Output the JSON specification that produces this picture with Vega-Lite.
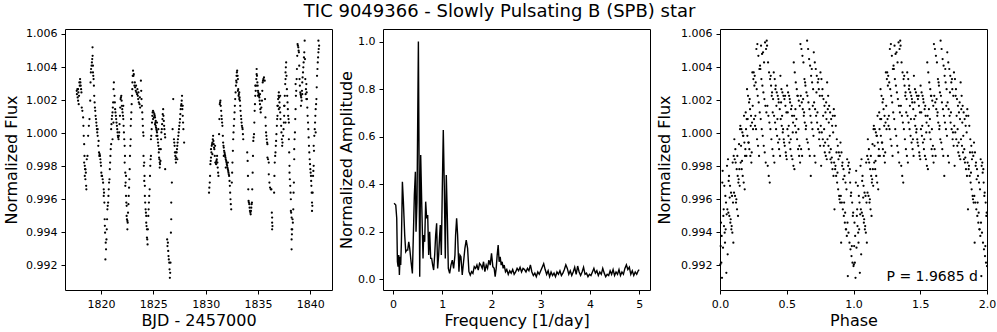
{
"$schema": "https://vega.github.io/schema/vega-lite/v6.json",
"background": "white",
"padding": {"left": 3, "top": 3, "right": 5, "bottom": 0},
"title": {"text": "TIC 9049366 - Slowly Pulsating B (SPB) star", "font": "DejaVu Sans", "fontSize": 18, "fontWeight": "normal", "color": "black", "anchor": "middle", "frame": "bounds", "offset": 6},
"config": {
  "font": "DejaVu Sans",
  "view": {"stroke": "black", "strokeWidth": 1},
  "axis": {"grid": false, "domain": false, "labelFont": "DejaVu Sans", "labelFontSize": 11, "labelColor": "black", "titleFont": "DejaVu Sans", "titleFontSize": 16, "titleFontWeight": "normal", "titleColor": "black", "tickColor": "black", "tickSize": 4, "tickWidth": 1, "labelPadding": 4, "titlePadding": 6, "labelFlush": false, "labelOverlap": false},
  "axisX": {"titlePadding": 3}
},
"datasets": {
"lc": [
{"t":1817.68,"f":1.00256},{"t":1817.74,"f":1.00266},{"t":1817.81,"f":1.00196},{"t":1817.87,"f":1.00175},{"t":1817.93,"f":1.00307},{"t":1818.00,"f":1.00327},{"t":1818.06,"f":1.00287},{"t":1818.13,"f":1.00246},{"t":1818.16,"f":1.00155},{"t":1818.22,"f":1.00135},{"t":1818.29,"f":1.00095},{"t":1818.32,"f":1.00044},{"t":1818.39,"f":0.99933},{"t":1818.39,"f":0.99822},{"t":1818.45,"f":0.99802},{"t":1818.48,"f":0.99782},{"t":1818.55,"f":0.99761},{"t":1818.58,"f":0.99681},{"t":1818.64,"f":0.99842},{"t":1818.71,"f":0.99862},{"t":1818.77,"f":0.99984},{"t":1818.84,"f":1.00044},{"t":1818.90,"f":1.00085},{"t":1818.97,"f":1.00196},{"t":1819.00,"f":1.00307},{"t":1819.03,"f":1.00367},{"t":1819.10,"f":1.00408},{"t":1819.16,"f":1.00448},{"t":1819.19,"f":1.00519},{"t":1819.23,"f":1.00367},{"t":1819.29,"f":1.00327},{"t":1819.35,"f":1.00226},{"t":1819.42,"f":1.00155},{"t":1819.48,"f":1.00105},{"t":1819.55,"f":1.00064},{"t":1819.61,"f":1.00024},{"t":1819.68,"f":0.99984},{"t":1819.74,"f":0.99923},{"t":1819.81,"f":0.99883},{"t":1819.87,"f":0.99873},{"t":1819.94,"f":0.99842},{"t":1820.00,"f":0.99802},{"t":1820.06,"f":0.99741},{"t":1820.16,"f":0.99721},{"t":1820.26,"f":0.99660},{"t":1820.26,"f":0.99620},{"t":1820.32,"f":0.99580},{"t":1820.35,"f":0.99479},{"t":1820.39,"f":0.99398},{"t":1820.45,"f":0.99337},{"t":1820.48,"f":0.99297},{"t":1820.42,"f":0.99236},{"t":1820.55,"f":0.99418},{"t":1820.61,"f":0.99539},{"t":1820.68,"f":0.99580},{"t":1820.74,"f":0.99660},{"t":1820.81,"f":0.99721},{"t":1820.87,"f":0.99822},{"t":1820.90,"f":0.99862},{"t":1820.97,"f":0.99933},{"t":1820.97,"f":1.00024},{"t":1821.03,"f":1.00085},{"t":1821.10,"f":1.00125},{"t":1821.16,"f":1.00186},{"t":1821.23,"f":1.00307},{"t":1821.29,"f":1.00226},{"t":1821.35,"f":1.00145},{"t":1821.42,"f":1.00105},{"t":1821.48,"f":1.00064},{"t":1821.55,"f":1.00024},{"t":1821.61,"f":0.99984},{"t":1821.68,"f":0.99963},{"t":1821.74,"f":1.00004},{"t":1821.81,"f":1.00105},{"t":1821.87,"f":1.00206},{"t":1821.94,"f":1.00226},{"t":1822.00,"f":1.00165},{"t":1822.06,"f":1.00125},{"t":1822.13,"f":1.00085},{"t":1822.19,"f":1.00004},{"t":1822.26,"f":0.99923},{"t":1822.26,"f":0.99822},{"t":1822.32,"f":0.99761},{"t":1822.32,"f":0.99681},{"t":1822.39,"f":0.99620},{"t":1822.45,"f":0.99560},{"t":1822.45,"f":0.99499},{"t":1822.52,"f":0.99469},{"t":1822.52,"f":0.99418},{"t":1822.58,"f":0.99519},{"t":1822.65,"f":0.99620},{"t":1822.71,"f":0.99721},{"t":1822.77,"f":0.99862},{"t":1822.84,"f":0.99963},{"t":1822.84,"f":1.00044},{"t":1822.90,"f":1.00125},{"t":1822.97,"f":1.00226},{"t":1823.00,"f":1.00307},{"t":1823.06,"f":1.00378},{"t":1823.13,"f":1.00357},{"t":1823.19,"f":1.00287},{"t":1823.26,"f":1.00277},{"t":1823.32,"f":1.00256},{"t":1823.39,"f":1.00246},{"t":1823.45,"f":1.00236},{"t":1823.52,"f":1.00226},{"t":1823.55,"f":1.00206},{"t":1823.61,"f":1.00186},{"t":1823.68,"f":1.00175},{"t":1823.74,"f":1.00155},{"t":1823.81,"f":1.00317},{"t":1823.87,"f":1.00206},{"t":1823.94,"f":1.00125},{"t":1824.00,"f":1.00044},{"t":1824.06,"f":0.99984},{"t":1824.06,"f":0.99862},{"t":1824.13,"f":0.99822},{"t":1824.13,"f":0.99711},{"t":1824.19,"f":0.99681},{"t":1824.19,"f":0.99620},{"t":1824.26,"f":0.99539},{"t":1824.32,"f":0.99499},{"t":1824.32,"f":0.99458},{"t":1824.39,"f":0.99418},{"t":1824.39,"f":0.99368},{"t":1824.45,"f":0.99327},{"t":1824.52,"f":0.99499},{"t":1824.58,"f":0.99580},{"t":1824.65,"f":0.99660},{"t":1824.71,"f":0.99802},{"t":1824.77,"f":0.99862},{"t":1824.77,"f":0.99963},{"t":1824.84,"f":1.00024},{"t":1824.90,"f":1.00105},{"t":1824.97,"f":1.00135},{"t":1825.03,"f":1.00125},{"t":1825.10,"f":1.00115},{"t":1825.16,"f":1.00095},{"t":1825.23,"f":1.00074},{"t":1825.23,"f":1.00044},{"t":1825.29,"f":1.00024},{"t":1825.35,"f":1.00004},{"t":1825.42,"f":0.99963},{"t":1825.48,"f":0.99923},{"t":1825.55,"f":0.99903},{"t":1825.55,"f":0.99852},{"t":1825.61,"f":0.99822},{"t":1825.61,"f":0.99792},{"t":1825.68,"f":0.99832},{"t":1825.74,"f":0.99963},{"t":1825.81,"f":1.00024},{"t":1825.87,"f":1.00085},{"t":1825.94,"f":1.00145},{"t":1826.00,"f":1.00074},{"t":1826.06,"f":1.00024},{"t":1826.13,"f":0.99974},{"t":1826.13,"f":0.99782},{"t":1826.32,"f":0.99357},{"t":1826.39,"f":0.99337},{"t":1826.45,"f":0.99256},{"t":1826.52,"f":0.99216},{"t":1826.55,"f":0.99176},{"t":1826.58,"f":0.99125},{"t":1826.64,"f":0.99216},{"t":1826.68,"f":0.99398},{"t":1826.71,"f":0.99479},{"t":1826.71,"f":0.99580},{"t":1826.77,"f":0.99701},{"t":1826.84,"f":1.00024},{"t":1826.90,"f":1.00206},{"t":1826.97,"f":0.99963},{"t":1827.03,"f":0.99923},{"t":1827.10,"f":0.99862},{"t":1827.16,"f":0.99822},{"t":1827.23,"f":0.99883},{"t":1827.29,"f":0.99923},{"t":1827.35,"f":0.99963},{"t":1827.42,"f":1.00004},{"t":1827.48,"f":1.00044},{"t":1827.55,"f":1.00085},{"t":1827.61,"f":1.00145},{"t":1827.68,"f":1.00175},{"t":1827.74,"f":1.00226},{"t":1827.81,"f":1.00105},{"t":1827.87,"f":1.00024},{"t":1827.94,"f":0.99943},
{"t":1823.10,"f":1.00347},{"t":1823.23,"f":1.00307},{"t":1823.35,"f":1.00287},{"t":1823.48,"f":1.00266},{"t":1823.58,"f":1.00246},{"t":1823.71,"f":1.00216},{"t":1824.97,"f":1.00085},{"t":1825.06,"f":1.00095},{"t":1825.16,"f":1.00054},{"t":1825.29,"f":0.99984},{"t":1825.35,"f":1.00064},{"t":1825.48,"f":1.00024},{"t":1819.23,"f":1.00408},{"t":1819.32,"f":1.00287},{"t":1819.39,"f":1.00186},{"t":1819.68,"f":1.00024},{"t":1819.77,"f":0.99953},{"t":1819.90,"f":0.99862},{"t":1817.81,"f":1.00266},{"t":1817.90,"f":1.00226},{"t":1818.45,"f":0.99741},{"t":1818.51,"f":0.99721},{"t":1821.10,"f":0.99963},{"t":1821.19,"f":1.00064},{"t":1822.13,"f":1.00165},{"t":1822.39,"f":0.99741},{"t":1827.81,"f":1.00165},{"t":1827.16,"f":0.99883},{"t":1827.29,"f":0.99842},
{"t":1817.70,"f":1.00236},{"t":1817.77,"f":1.00216},{"t":1817.84,"f":1.00246},{"t":1817.97,"f":1.00287},{"t":1818.03,"f":1.00307},{"t":1818.10,"f":1.00266},{"t":1818.35,"f":0.99984},{"t":1818.42,"f":0.99862},{"t":1818.52,"f":0.99781},{"t":1818.60,"f":0.99660},{"t":1819.05,"f":1.00388},{"t":1819.13,"f":1.00428},{"t":1819.20,"f":1.00468},{"t":1819.26,"f":1.00347},{"t":1819.45,"f":1.00135},{"t":1819.52,"f":1.00085},{"t":1819.58,"f":1.00044},{"t":1819.64,"f":1.00004},{"t":1819.84,"f":0.99862},{"t":1819.97,"f":0.99822},{"t":1820.03,"f":0.99761},{"t":1820.10,"f":0.99741},{"t":1820.20,"f":0.99700},{"t":1820.29,"f":0.99640},{"t":1820.37,"f":0.99439},{"t":1820.52,"f":0.99357},{"t":1820.58,"f":0.99479},{"t":1820.64,"f":0.99560},{"t":1820.71,"f":0.99620},{"t":1820.77,"f":0.99701},{"t":1820.84,"f":0.99782},{"t":1820.93,"f":0.99903},{"t":1821.00,"f":1.00054},{"t":1821.06,"f":1.00105},{"t":1821.13,"f":1.00155},{"t":1821.20,"f":1.00266},{"t":1821.32,"f":1.00186},{"t":1821.38,"f":1.00125},{"t":1821.45,"f":1.00085},{"t":1821.52,"f":1.00044},{"t":1821.58,"f":1.00004},{"t":1821.64,"f":0.99974},{"t":1821.71,"f":0.99984},{"t":1821.77,"f":1.00054},{"t":1821.84,"f":1.00155},{"t":1821.90,"f":1.00216},{"t":1821.97,"f":1.00196},{"t":1822.03,"f":1.00145},{"t":1822.10,"f":1.00105},{"t":1822.16,"f":1.00044},{"t":1822.22,"f":0.99963},{"t":1822.29,"f":0.99862},{"t":1822.35,"f":0.99701},{"t":1822.42,"f":0.99580},{"t":1822.48,"f":0.99479},{"t":1822.55,"f":0.99458},{"t":1822.62,"f":0.99570},{"t":1822.68,"f":0.99670},{"t":1822.74,"f":0.99782},{"t":1822.80,"f":0.99923},{"t":1822.87,"f":1.00085},{"t":1822.93,"f":1.00175},{"t":1822.99,"f":1.00266},{"t":1823.03,"f":1.00347},{"t":1823.84,"f":1.00256},{"t":1823.90,"f":1.00165},{"t":1823.97,"f":1.00085},{"t":1824.03,"f":1.00004},{"t":1824.09,"f":0.99802},{"t":1824.16,"f":0.99741},{"t":1824.22,"f":0.99580},{"t":1824.29,"f":0.99519},{"t":1824.35,"f":0.99438},{"t":1824.42,"f":0.99357},{"t":1824.48,"f":0.99418},{"t":1824.55,"f":0.99539},{"t":1824.61,"f":0.99620},{"t":1824.68,"f":0.99741},{"t":1824.74,"f":0.99842},{"t":1824.80,"f":0.99984},{"t":1824.87,"f":1.00064},{"t":1824.93,"f":1.00125},{"t":1825.13,"f":1.00105},{"t":1825.20,"f":1.00064},{"t":1825.26,"f":1.00034},{"t":1825.32,"f":1.00014},{"t":1825.39,"f":0.99984},{"t":1825.45,"f":0.99943},{"t":1825.52,"f":0.99883},{"t":1825.58,"f":0.99842},{"t":1825.64,"f":0.99812},{"t":1825.71,"f":0.99903},{"t":1825.77,"f":1.00004},{"t":1825.84,"f":1.00054},{"t":1825.90,"f":1.00115},{"t":1825.97,"f":1.00105},{"t":1826.03,"f":1.00044},{"t":1826.10,"f":0.99994},{"t":1826.35,"f":0.99317},{"t":1826.42,"f":0.99287},{"t":1826.48,"f":0.99236},{"t":1826.61,"f":0.99155},{"t":1827.00,"f":0.99943},{"t":1827.06,"f":0.99883},{"t":1827.13,"f":0.99842},{"t":1827.19,"f":0.99852},{"t":1827.26,"f":0.99903},{"t":1827.32,"f":0.99943},{"t":1827.39,"f":0.99984},{"t":1827.45,"f":1.00024},{"t":1827.52,"f":1.00064},{"t":1827.58,"f":1.00115},{"t":1827.65,"f":1.00165},{"t":1827.71,"f":1.00196},{"t":1827.77,"f":1.00145},{"t":1827.84,"f":1.00064},
{"t":1830.32,"f":0.99640},{"t":1830.39,"f":0.99701},{"t":1830.42,"f":0.99741},{"t":1830.45,"f":0.99812},{"t":1830.51,"f":0.99852},{"t":1830.55,"f":0.99883},{"t":1830.58,"f":0.99923},{"t":1830.64,"f":0.99943},{"t":1830.71,"f":0.99984},{"t":1830.77,"f":0.99933},{"t":1830.83,"f":0.99903},{"t":1830.87,"f":0.99862},{"t":1830.93,"f":0.99822},{"t":1831.00,"f":0.99812},{"t":1831.03,"f":0.99832},{"t":1831.09,"f":0.99862},{"t":1831.15,"f":0.99792},{"t":1831.22,"f":0.99741},{"t":1831.28,"f":0.99994},{"t":1831.35,"f":1.00175},{"t":1831.41,"f":1.00196},{"t":1831.48,"f":1.00135},{"t":1831.54,"f":1.00085},{"t":1831.60,"f":1.00044},{"t":1831.67,"f":0.99943},{"t":1831.73,"f":0.99913},{"t":1831.80,"f":0.99883},{"t":1831.86,"f":0.99862},{"t":1831.92,"f":0.99842},{"t":1831.99,"f":0.99822},{"t":1832.05,"f":0.99802},{"t":1832.12,"f":0.99782},{"t":1832.18,"f":0.99761},{"t":1832.24,"f":0.99741},{"t":1832.31,"f":0.99681},{"t":1832.34,"f":0.99640},{"t":1832.37,"f":0.99600},{"t":1832.44,"f":0.99539},{"t":1832.50,"f":0.99701},{"t":1832.56,"f":0.99822},{"t":1832.63,"f":0.99963},{"t":1832.69,"f":1.00044},{"t":1832.76,"f":1.00125},{"t":1832.82,"f":1.00206},{"t":1832.89,"f":1.00287},{"t":1832.95,"f":1.00347},{"t":1833.01,"f":1.00378},{"t":1833.08,"f":1.00327},{"t":1833.11,"f":1.00266},{"t":1833.14,"f":1.00226},{"t":1833.21,"f":1.00246},{"t":1833.27,"f":1.00196},{"t":1833.33,"f":1.00135},{"t":1833.40,"f":1.00085},{"t":1833.46,"f":1.00044},{"t":1833.53,"f":1.00024},{"t":1833.59,"f":0.99963},{"t":1833.97,"f":0.99883},{"t":1834.01,"f":0.99832},{"t":1834.04,"f":0.99741},{"t":1834.10,"f":0.99590},{"t":1834.17,"f":0.99570},{"t":1834.23,"f":0.99529},{"t":1834.30,"f":0.99509},{"t":1834.36,"f":0.99549},{"t":1834.42,"f":0.99580},{"t":1834.49,"f":0.99761},{"t":1834.55,"f":0.99953},{"t":1834.62,"f":0.99994},{"t":1834.68,"f":1.00135},{"t":1834.74,"f":1.00226},{"t":1834.81,"f":1.00287},{"t":1834.87,"f":1.00357},{"t":1834.87,"f":1.00388},{"t":1834.94,"f":1.00307},{"t":1835.00,"f":1.00256},{"t":1835.06,"f":1.00236},{"t":1835.13,"f":1.00216},{"t":1835.19,"f":1.00175},{"t":1835.26,"f":1.00125},{"t":1835.38,"f":1.00196},{"t":1835.45,"f":1.00307},{"t":1835.51,"f":1.00327},{"t":1835.64,"f":1.00317},{"t":1835.71,"f":1.00095},{"t":1835.74,"f":1.00044},{"t":1835.77,"f":1.00004},{"t":1835.83,"f":0.99963},{"t":1835.90,"f":0.99933},{"t":1835.90,"f":0.99852},{"t":1836.03,"f":0.99822},{"t":1836.03,"f":0.99751},{"t":1836.15,"f":0.99671},{"t":1836.28,"f":0.99660},{"t":1836.35,"f":0.99489},{"t":1836.35,"f":0.99458},{"t":1836.35,"f":0.99418},{"t":1836.54,"f":0.99640},{"t":1836.60,"f":0.99822},{"t":1836.67,"f":0.99883},{"t":1836.73,"f":0.99953},{"t":1836.80,"f":1.00044},{"t":1836.86,"f":1.00105},{"t":1836.92,"f":1.00206},{"t":1836.99,"f":1.00246},{"t":1837.05,"f":1.00186},{"t":1837.12,"f":1.00125},{"t":1837.24,"f":1.00004},{"t":1837.31,"f":0.99923},{"t":1837.44,"f":1.00024},{"t":1837.50,"f":1.00105},{"t":1837.56,"f":1.00226},{"t":1837.63,"f":1.00367},{"t":1837.69,"f":1.00428},{"t":1837.63,"f":1.00327},{"t":1837.76,"f":1.00266},{"t":1837.82,"f":1.00186},{"t":1837.88,"f":1.00105},{"t":1837.95,"f":1.00064},{"t":1837.95,"f":0.99963},{"t":1838.01,"f":0.99802},{"t":1838.01,"f":0.99761},{"t":1838.08,"f":0.99681},{"t":1838.14,"f":0.99600},{"t":1838.14,"f":0.99529},{"t":1838.21,"f":0.99489},{"t":1838.21,"f":0.99418},{"t":1838.21,"f":0.99357},{"t":1838.21,"f":0.99297},{"t":1838.33,"f":0.99458},{"t":1838.37,"f":0.99539},{"t":1838.40,"f":0.99640},{"t":1838.43,"f":0.99701},{"t":1838.46,"f":0.99842},{"t":1838.46,"f":0.99903},{"t":1838.53,"f":1.00004},{"t":1838.56,"f":1.00085},{"t":1838.59,"f":1.00145},{"t":1838.59,"f":1.00297},{"t":1838.65,"f":1.00256},{"t":1838.72,"f":1.00388},{"t":1838.78,"f":1.00539},{"t":1838.85,"f":1.00519},{"t":1838.91,"f":1.00489},{"t":1838.97,"f":1.00327},{"t":1839.04,"f":1.00246},{"t":1839.10,"f":1.00226},{"t":1839.17,"f":1.00196},{"t":1839.23,"f":1.00307},{"t":1839.30,"f":1.00367},{"t":1839.36,"f":1.00428},{"t":1839.42,"f":1.00489},{"t":1839.46,"f":1.00559},{"t":1839.49,"f":1.00448},{"t":1839.55,"f":1.00236},{"t":1839.62,"f":1.00297},{"t":1839.68,"f":1.00206},{"t":1839.74,"f":1.00105},{"t":1839.81,"f":1.00024},{"t":1839.87,"f":0.99923},{"t":1839.94,"f":0.99842},{"t":1840.00,"f":0.99782},{"t":1840.06,"f":0.99741},{"t":1840.10,"f":0.99681},{"t":1840.13,"f":0.99640},{"t":1840.16,"f":0.99580},{"t":1840.16,"f":0.99529},{"t":1840.26,"f":0.99741},{"t":1840.32,"f":0.99802},{"t":1840.38,"f":0.99984},{"t":1840.45,"f":1.00064},{"t":1840.51,"f":1.00145},{"t":1840.58,"f":1.00206},{"t":1840.64,"f":1.00347},{"t":1840.71,"f":1.00428},{"t":1840.77,"f":1.00489},{"t":1840.77,"f":1.00559},{"t":1840.84,"f":1.00529},
{"t":1830.51,"f":0.99903},{"t":1830.64,"f":0.99873},{"t":1830.90,"f":0.99923},{"t":1831.73,"f":0.99862},{"t":1831.92,"f":0.99792},{"t":1832.12,"f":0.99822},{"t":1832.95,"f":1.00307},{"t":1833.08,"f":1.00256},{"t":1833.21,"f":1.00206},{"t":1834.74,"f":1.00287},{"t":1835.00,"f":1.00226},{"t":1835.19,"f":1.00236},{"t":1836.86,"f":1.00165},{"t":1836.99,"f":1.00145},{"t":1837.12,"f":1.00226},{"t":1837.50,"f":1.00165},{"t":1837.63,"f":1.00064},{"t":1839.10,"f":1.00165},{"t":1839.23,"f":1.00236},{"t":1839.62,"f":1.00206},{"t":1840.51,"f":1.00004},{"t":1840.32,"f":0.99923},
{"t":1830.35,"f":0.99670},{"t":1830.48,"f":0.99832},{"t":1830.61,"f":0.99933},{"t":1830.68,"f":0.99963},{"t":1830.74,"f":0.99953},{"t":1830.80,"f":0.99913},{"t":1830.96,"f":0.99822},{"t":1831.06,"f":0.99842},{"t":1831.12,"f":0.99822},{"t":1831.19,"f":0.99761},{"t":1831.31,"f":1.00085},{"t":1831.38,"f":1.00186},{"t":1831.44,"f":1.00165},{"t":1831.51,"f":1.00105},{"t":1831.57,"f":1.00064},{"t":1831.64,"f":0.99984},{"t":1831.70,"f":0.99923},{"t":1831.76,"f":0.99893},{"t":1831.83,"f":0.99873},{"t":1831.89,"f":0.99852},{"t":1831.96,"f":0.99832},{"t":1832.02,"f":0.99812},{"t":1832.08,"f":0.99792},{"t":1832.15,"f":0.99771},{"t":1832.21,"f":0.99751},{"t":1832.28,"f":0.99711},{"t":1832.40,"f":0.99570},{"t":1832.53,"f":0.99761},{"t":1832.60,"f":0.99893},{"t":1832.66,"f":1.00004},{"t":1832.73,"f":1.00085},{"t":1832.79,"f":1.00165},{"t":1832.86,"f":1.00246},{"t":1832.92,"f":1.00317},{"t":1832.98,"f":1.00367},{"t":1833.05,"f":1.00347},{"t":1833.17,"f":1.00236},{"t":1833.24,"f":1.00216},{"t":1833.30,"f":1.00165},{"t":1833.37,"f":1.00105},{"t":1833.43,"f":1.00064},{"t":1833.50,"f":1.00034},{"t":1833.56,"f":0.99994},{"t":1834.07,"f":0.99660},{"t":1834.13,"f":0.99580},{"t":1834.20,"f":0.99549},{"t":1834.27,"f":0.99519},{"t":1834.33,"f":0.99529},{"t":1834.39,"f":0.99570},{"t":1834.45,"f":0.99660},{"t":1834.52,"f":0.99862},{"t":1834.58,"f":0.99974},{"t":1834.65,"f":1.00064},{"t":1834.71,"f":1.00175},{"t":1834.78,"f":1.00256},{"t":1834.84,"f":1.00327},{"t":1834.90,"f":1.00347},{"t":1834.97,"f":1.00287},{"t":1835.03,"f":1.00246},{"t":1835.10,"f":1.00226},{"t":1835.16,"f":1.00196},{"t":1835.22,"f":1.00145},{"t":1835.32,"f":1.00155},{"t":1835.41,"f":1.00256},{"t":1835.48,"f":1.00317},{"t":1835.57,"f":1.00337},{"t":1835.67,"f":1.00206},{"t":1835.80,"f":0.99984},{"t":1835.87,"f":0.99943},{"t":1835.96,"f":0.99842},{"t":1836.09,"f":0.99701},{"t":1836.22,"f":0.99660},{"t":1836.32,"f":0.99519},{"t":1836.38,"f":0.99438},{"t":1836.57,"f":0.99741},{"t":1836.64,"f":0.99862},{"t":1836.70,"f":0.99923},{"t":1836.76,"f":0.99994},{"t":1836.83,"f":1.00085},{"t":1836.89,"f":1.00165},{"t":1836.96,"f":1.00226},{"t":1837.02,"f":1.00216},{"t":1837.08,"f":1.00155},{"t":1837.15,"f":1.00085},{"t":1837.21,"f":1.00044},{"t":1837.28,"f":0.99963},{"t":1837.34,"f":0.99943},{"t":1837.40,"f":0.99984},{"t":1837.47,"f":1.00064},{"t":1837.53,"f":1.00165},{"t":1837.60,"f":1.00297},{"t":1837.66,"f":1.00398},{"t":1837.72,"f":1.00347},{"t":1837.79,"f":1.00226},{"t":1837.85,"f":1.00145},{"t":1837.92,"f":1.00085},{"t":1837.98,"f":0.99883},{"t":1838.04,"f":0.99721},{"t":1838.11,"f":0.99640},{"t":1838.17,"f":0.99519},{"t":1838.24,"f":0.99388},{"t":1838.27,"f":0.99418},{"t":1838.30,"f":0.99479},{"t":1838.49,"f":0.99963},{"t":1838.62,"f":1.00226},{"t":1838.69,"f":1.00327},{"t":1838.75,"f":1.00468},{"t":1838.81,"f":1.00529},{"t":1838.88,"f":1.00499},{"t":1838.94,"f":1.00408},{"t":1839.00,"f":1.00287},{"t":1839.07,"f":1.00236},{"t":1839.13,"f":1.00216},{"t":1839.20,"f":1.00256},{"t":1839.26,"f":1.00337},{"t":1839.33,"f":1.00398},{"t":1839.39,"f":1.00458},{"t":1839.52,"f":1.00327},{"t":1839.58,"f":1.00266},{"t":1839.65,"f":1.00246},{"t":1839.71,"f":1.00155},{"t":1839.78,"f":1.00064},{"t":1839.84,"f":0.99974},{"t":1839.90,"f":0.99883},{"t":1839.97,"f":0.99812},{"t":1840.03,"f":0.99761},{"t":1840.08,"f":0.99711},{"t":1840.19,"f":0.99560},{"t":1840.22,"f":0.99640},{"t":1840.29,"f":0.99771},{"t":1840.35,"f":0.99893},{"t":1840.42,"f":1.00024},{"t":1840.48,"f":1.00105},{"t":1840.55,"f":1.00175},{"t":1840.61,"f":1.00277},{"t":1840.68,"f":1.00388},{"t":1840.74,"f":1.00458},{"t":1840.80,"f":1.00509}
],
"pg": [
{"fr":0.020,"a":0.319},{"fr":0.054,"a":0.312},{"fr":0.074,"a":0.256},{"fr":0.088,"a":0.073},{"fr":0.101,"a":0.052},{"fr":0.115,"a":0.101},{"fr":0.128,"a":0.017},{"fr":0.142,"a":0.094},{"fr":0.155,"a":0.059},{"fr":0.169,"a":0.157},{"fr":0.189,"a":0.410},{"fr":0.209,"a":0.326},{"fr":0.236,"a":0.185},{"fr":0.257,"a":0.115},{"fr":0.277,"a":0.122},{"fr":0.297,"a":0.122},{"fr":0.318,"a":0.157},{"fr":0.338,"a":0.129},{"fr":0.365,"a":0.073},{"fr":0.392,"a":0.024},{"fr":0.412,"a":0.185},{"fr":0.432,"a":0.354},{"fr":0.453,"a":0.452},{"fr":0.466,"a":0.199},{"fr":0.486,"a":0.326},{"fr":0.514,"a":1.000},{"fr":0.541,"a":0.010},{"fr":0.561,"a":0.522},{"fr":0.581,"a":0.326},{"fr":0.608,"a":0.087},{"fr":0.622,"a":0.185},{"fr":0.642,"a":0.157},{"fr":0.662,"a":0.326},{"fr":0.682,"a":0.256},{"fr":0.703,"a":0.270},{"fr":0.723,"a":0.101},{"fr":0.743,"a":0.199},{"fr":0.764,"a":0.087},{"fr":0.784,"a":0.087},{"fr":0.804,"a":0.059},{"fr":0.824,"a":0.038},{"fr":0.845,"a":0.101},{"fr":0.865,"a":0.185},{"fr":0.885,"a":0.235},{"fr":0.905,"a":0.045},{"fr":0.926,"a":0.101},{"fr":0.946,"a":0.185},{"fr":0.959,"a":0.228},{"fr":0.980,"a":0.101},{"fr":1.000,"a":0.382},{"fr":1.020,"a":0.628},{"fr":1.041,"a":0.382},{"fr":1.061,"a":0.087},{"fr":1.081,"a":0.438},{"fr":1.101,"a":0.270},{"fr":1.122,"a":0.045},{"fr":1.149,"a":0.024},{"fr":1.176,"a":0.059},{"fr":1.203,"a":0.080},{"fr":1.230,"a":0.045},{"fr":1.257,"a":0.101},{"fr":1.270,"a":0.185},{"fr":1.291,"a":0.256},{"fr":1.311,"a":0.185},{"fr":1.338,"a":0.031},{"fr":1.358,"a":0.101},{"fr":1.378,"a":0.094},{"fr":1.405,"a":0.017},{"fr":1.432,"a":0.073},{"fr":1.459,"a":0.129},{"fr":1.486,"a":0.164},{"fr":1.514,"a":0.129},{"fr":1.541,"a":0.031},{"fr":1.568,"a":0.017},{"fr":1.595,"a":0.031},{"fr":1.622,"a":0.024},{"fr":1.649,"a":0.052},{"fr":1.676,"a":0.045},{"fr":1.703,"a":0.059},{"fr":1.730,"a":0.038},{"fr":1.757,"a":0.066},{"fr":1.784,"a":0.059},{"fr":1.811,"a":0.045},{"fr":1.838,"a":0.073},{"fr":1.865,"a":0.031},{"fr":1.892,"a":0.059},{"fr":1.919,"a":0.045},{"fr":1.946,"a":0.080},{"fr":1.973,"a":0.059},{"fr":2.000,"a":0.108},{"fr":2.027,"a":0.052},{"fr":2.054,"a":0.045},{"fr":2.074,"a":0.010},{"fr":2.095,"a":0.045},{"fr":2.115,"a":0.101},{"fr":2.135,"a":0.143},{"fr":2.155,"a":0.073},{"fr":2.176,"a":0.094},{"fr":2.196,"a":0.059},{"fr":2.216,"a":0.073},{"fr":2.236,"a":0.045},{"fr":2.257,"a":0.059},{"fr":2.284,"a":0.031},
{"fr":2.31,"a":0.040},{"fr":2.34,"a":0.020},{"fr":2.37,"a":0.035},{"fr":2.40,"a":0.025},{"fr":2.43,"a":0.040},{"fr":2.46,"a":0.020},{"fr":2.49,"a":0.030},{"fr":2.52,"a":0.045},{"fr":2.55,"a":0.035},{"fr":2.58,"a":0.050},{"fr":2.61,"a":0.030},{"fr":2.64,"a":0.045},{"fr":2.67,"a":0.040},{"fr":2.70,"a":0.030},{"fr":2.73,"a":0.045},{"fr":2.76,"a":0.035},{"fr":2.79,"a":0.060},{"fr":2.82,"a":0.030},{"fr":2.85,"a":0.015},{"fr":2.88,"a":0.025},{"fr":2.91,"a":0.010},{"fr":2.94,"a":0.030},{"fr":2.97,"a":0.020},{"fr":3.00,"a":0.035},{"fr":3.03,"a":0.050},{"fr":3.06,"a":0.065},{"fr":3.09,"a":0.040},{"fr":3.12,"a":0.020},{"fr":3.15,"a":0.035},{"fr":3.18,"a":0.010},{"fr":3.21,"a":0.030},{"fr":3.24,"a":0.015},{"fr":3.27,"a":0.025},{"fr":3.30,"a":0.010},{"fr":3.33,"a":0.030},{"fr":3.36,"a":0.020},{"fr":3.39,"a":0.035},{"fr":3.42,"a":0.015},{"fr":3.45,"a":0.025},{"fr":3.48,"a":0.040},{"fr":3.51,"a":0.060},{"fr":3.54,"a":0.045},{"fr":3.57,"a":0.020},{"fr":3.60,"a":0.035},{"fr":3.63,"a":0.015},{"fr":3.66,"a":0.030},{"fr":3.69,"a":0.050},{"fr":3.72,"a":0.020},{"fr":3.75,"a":0.055},{"fr":3.78,"a":0.030},{"fr":3.81,"a":0.015},{"fr":3.84,"a":0.030},{"fr":3.87,"a":0.050},{"fr":3.90,"a":0.020},{"fr":3.93,"a":0.025},{"fr":3.96,"a":0.010},{"fr":3.99,"a":0.020},{"fr":4.02,"a":0.015},{"fr":4.05,"a":0.030},{"fr":4.08,"a":0.045},{"fr":4.11,"a":0.025},{"fr":4.14,"a":0.035},{"fr":4.17,"a":0.015},{"fr":4.20,"a":0.030},{"fr":4.23,"a":0.020},{"fr":4.26,"a":0.045},{"fr":4.29,"a":0.025},{"fr":4.32,"a":0.010},{"fr":4.35,"a":0.020},{"fr":4.38,"a":0.015},{"fr":4.41,"a":0.035},{"fr":4.44,"a":0.020},{"fr":4.47,"a":0.040},{"fr":4.50,"a":0.015},{"fr":4.53,"a":0.030},{"fr":4.56,"a":0.020},{"fr":4.59,"a":0.040},{"fr":4.62,"a":0.015},{"fr":4.65,"a":0.030},{"fr":4.68,"a":0.020},{"fr":4.71,"a":0.045},{"fr":4.74,"a":0.060},{"fr":4.77,"a":0.040},{"fr":4.80,"a":0.050},{"fr":4.83,"a":0.020},{"fr":4.86,"a":0.035},{"fr":4.89,"a":0.015},{"fr":4.92,"a":0.030},{"fr":4.95,"a":0.020},{"fr":4.98,"a":0.035},{"fr":5.00,"a":0.040}
],
"ph": [
{"p":0.005,"q":1.005,"f":0.99317},{"p":0.01,"q":1.01,"f":0.99216},{"p":0.015,"q":1.015,"f":0.99125},{"p":0.02,"q":1.02,"f":0.99772},{"p":0.025,"q":1.025,"f":0.99499},{"p":0.03,"q":1.03,"f":0.99438},{"p":0.035,"q":1.035,"f":0.99398},{"p":0.04,"q":1.04,"f":0.9962},{"p":0.045,"q":1.045,"f":0.9958},{"p":0.0075,"q":1.0075,"f":0.99458},{"p":0.0125,"q":1.0125,"f":0.99378},{"p":0.0175,"q":1.0175,"f":0.99701},{"p":0.0225,"q":1.0225,"f":0.99307},{"p":0.0275,"q":1.0275,"f":0.99539},{"p":0.0325,"q":1.0325,"f":0.99681},{"p":0.0375,"q":1.0375,"f":0.99337},{"p":0.0425,"q":1.0425,"f":0.99418},{"p":0.0475,"q":1.0475,"f":0.99155},{"p":0.0025,"q":1.0025,"f":0.99206},{"p":0.05,"q":1.05,"f":0.99509},
{"p":0.0525,"q":1.0525,"f":0.99802},{"p":0.055,"q":1.055,"f":0.99539},{"p":0.0575,"q":1.0575,"f":0.99267},{"p":0.06,"q":1.06,"f":0.99842},{"p":0.0625,"q":1.0625,"f":0.99519},{"p":0.065,"q":1.065,"f":0.99711},{"p":0.0675,"q":1.0675,"f":0.99741},{"p":0.07,"q":1.07,"f":0.99499},{"p":0.0725,"q":1.0725,"f":0.9961},{"p":0.075,"q":1.075,"f":0.99681},{"p":0.0775,"q":1.0775,"f":0.99458},{"p":0.08,"q":1.08,"f":0.99479},{"p":0.0825,"q":1.0825,"f":0.9964},{"p":0.085,"q":1.085,"f":0.99418},{"p":0.0875,"q":1.0875,"f":0.99438},{"p":0.09,"q":1.09,"f":0.9962},{"p":0.0925,"q":1.0925,"f":0.99398},{"p":0.095,"q":1.095,"f":0.99822},{"p":0.0975,"q":1.0975,"f":0.9958},{"p":0.1,"q":1.1,"f":0.99337},
{"p":0.1025,"q":1.1025,"f":0.99862},{"p":0.105,"q":1.105,"f":0.9964},{"p":0.1075,"q":1.1075,"f":0.99963},{"p":0.11,"q":1.11,"f":0.99842},{"p":0.1125,"q":1.1125,"f":0.9962},{"p":0.115,"q":1.115,"f":0.99903},{"p":0.1175,"q":1.1175,"f":0.99822},{"p":0.12,"q":1.12,"f":0.9958},{"p":0.1225,"q":1.1225,"f":0.996},{"p":0.125,"q":1.125,"f":0.99782},{"p":0.1275,"q":1.1275,"f":0.99539},{"p":0.13,"q":1.13,"f":0.99862},{"p":0.1325,"q":1.1325,"f":0.99741},{"p":0.135,"q":1.135,"f":0.99499},{"p":0.1375,"q":1.1375,"f":0.99701},{"p":0.14,"q":1.14,"f":0.99721},{"p":0.1425,"q":1.1425,"f":0.99933},{"p":0.145,"q":1.145,"f":0.99782},{"p":0.1475,"q":1.1475,"f":0.99681},{"p":0.15,"q":1.15,"f":1.00024},
{"p":0.1525,"q":1.1525,"f":1.00044},{"p":0.155,"q":1.155,"f":0.99822},{"p":0.1575,"q":1.1575,"f":0.99923},{"p":0.16,"q":1.16,"f":1.00024},{"p":0.1625,"q":1.1625,"f":0.99782},{"p":0.165,"q":1.165,"f":0.99832},{"p":0.1675,"q":1.1675,"f":1.00004},{"p":0.17,"q":1.17,"f":0.99741},{"p":0.1725,"q":1.1725,"f":0.99984},{"p":0.175,"q":1.175,"f":0.99984},{"p":0.1775,"q":1.1775,"f":0.99701},{"p":0.18,"q":1.18,"f":1.00105},{"p":0.1825,"q":1.1825,"f":0.99943},{"p":0.185,"q":1.185,"f":0.9966},{"p":0.1875,"q":1.1875,"f":0.99862},{"p":0.19,"q":1.19,"f":0.99903},{"p":0.1925,"q":1.1925,"f":1.00125},{"p":0.195,"q":1.195,"f":1.00024},{"p":0.1975,"q":1.1975,"f":0.99862},{"p":0.2,"q":1.2,"f":1.00085},
{"p":0.2025,"q":1.2025,"f":1.00266},{"p":0.205,"q":1.205,"f":0.99984},{"p":0.2075,"q":1.2075,"f":1.00085},{"p":0.21,"q":1.21,"f":1.00226},{"p":0.2125,"q":1.2125,"f":0.99943},{"p":0.215,"q":1.215,"f":0.99943},{"p":0.2175,"q":1.2175,"f":1.00186},{"p":0.22,"q":1.22,"f":0.99903},{"p":0.2225,"q":1.2225,"f":1.00206},{"p":0.225,"q":1.225,"f":1.00145},{"p":0.2275,"q":1.2275,"f":0.99862},{"p":0.23,"q":1.23,"f":1.00044},{"p":0.2325,"q":1.2325,"f":1.00105},{"p":0.235,"q":1.235,"f":0.99822},{"p":0.2375,"q":1.2375,"f":0.99883},{"p":0.24,"q":1.24,"f":1.00064},{"p":0.2425,"q":1.2425,"f":1.00367},{"p":0.245,"q":1.245,"f":1.00165},{"p":0.2475,"q":1.2475,"f":1.00024},{"p":0.25,"q":1.25,"f":1.00327},
{"p":0.2525,"q":1.2525,"f":1.00367},{"p":0.255,"q":1.255,"f":1.00085},{"p":0.2575,"q":1.2575,"f":1.00287},{"p":0.26,"q":1.26,"f":1.00347},{"p":0.2625,"q":1.2625,"f":1.00044},{"p":0.265,"q":1.265,"f":1.00105},{"p":0.2675,"q":1.2675,"f":1.00307},{"p":0.27,"q":1.27,"f":1.00024},{"p":0.2725,"q":1.2725,"f":1.00509},{"p":0.275,"q":1.275,"f":1.00266},{"p":0.2775,"q":1.2775,"f":0.99963},{"p":0.28,"q":1.28,"f":1.00539},{"p":0.2825,"q":1.2825,"f":1.00226},{"p":0.285,"q":1.285,"f":0.99923},{"p":0.2875,"q":1.2875,"f":1.00468},{"p":0.29,"q":1.29,"f":1.00186},{"p":0.2925,"q":1.2925,"f":0.99862},{"p":0.295,"q":1.295,"f":1.00388},{"p":0.2975,"q":1.2975,"f":1.00125},{"p":0.3,"q":1.3,"f":1.00408},
{"p":0.3025,"q":1.3025,"f":1.00388},{"p":0.305,"q":1.305,"f":1.00085},{"p":0.3075,"q":1.3075,"f":1.00529},{"p":0.31,"q":1.31,"f":1.00327},{"p":0.3125,"q":1.3125,"f":1.00024},{"p":0.315,"q":1.315,"f":1.00479},{"p":0.3175,"q":1.3175,"f":1.00287},{"p":0.32,"q":1.32,"f":0.99984},{"p":0.3225,"q":1.3225,"f":1.00489},{"p":0.325,"q":1.325,"f":1.00246},{"p":0.3275,"q":1.3275,"f":0.99923},{"p":0.33,"q":1.33,"f":1.00428},{"p":0.3325,"q":1.3325,"f":1.00206},{"p":0.335,"q":1.335,"f":0.99883},{"p":0.3375,"q":1.3375,"f":1.00549},{"p":0.34,"q":1.34,"f":1.00165},{"p":0.3425,"q":1.3425,"f":0.99822},{"p":0.345,"q":1.345,"f":1.00509},{"p":0.3475,"q":1.3475,"f":1.00125},{"p":0.35,"q":1.35,"f":1.00559},
{"p":0.3525,"q":1.3525,"f":1.00529},{"p":0.355,"q":1.355,"f":1.00165},{"p":0.3575,"q":1.3575,"f":0.99802},{"p":0.36,"q":1.36,"f":1.00428},{"p":0.3625,"q":1.3625,"f":1.00105},{"p":0.365,"q":1.365,"f":0.99741},{"p":0.3675,"q":1.3675,"f":1.00367},{"p":0.37,"q":1.37,"f":1.00064},{"p":0.3725,"q":1.3725,"f":0.99701},{"p":0.375,"q":1.375,"f":1.00327},{"p":0.3775,"q":1.3775,"f":1.00024},{"p":0.38,"q":1.38,"f":1.00347},{"p":0.3825,"q":1.3825,"f":1.00287},{"p":0.385,"q":1.385,"f":0.99963},{"p":0.3875,"q":1.3875,"f":1.00226},{"p":0.39,"q":1.39,"f":1.00246},{"p":0.3925,"q":1.3925,"f":0.99903},{"p":0.395,"q":1.395,"f":1.00125},{"p":0.3975,"q":1.3975,"f":1.00206},{"p":0.4,"q":1.4,"f":0.99862},
{"p":0.4025,"q":1.4025,"f":1.00367},{"p":0.405,"q":1.405,"f":1.00105},{"p":0.4075,"q":1.4075,"f":0.99822},{"p":0.41,"q":1.41,"f":1.00327},{"p":0.4125,"q":1.4125,"f":1.00064},{"p":0.415,"q":1.415,"f":1.00266},{"p":0.4175,"q":1.4175,"f":1.00287},{"p":0.42,"q":1.42,"f":1.00024},{"p":0.4225,"q":1.4225,"f":1.00165},{"p":0.425,"q":1.425,"f":1.00246},{"p":0.4275,"q":1.4275,"f":0.99984},{"p":0.43,"q":1.43,"f":1.00085},{"p":0.4325,"q":1.4325,"f":1.00226},{"p":0.435,"q":1.435,"f":0.99943},{"p":0.4375,"q":1.4375,"f":1.00206},{"p":0.44,"q":1.44,"f":1.00186},{"p":0.4425,"q":1.4425,"f":0.99903},{"p":0.445,"q":1.445,"f":0.99963},{"p":0.4475,"q":1.4475,"f":1.00145},{"p":0.45,"q":1.45,"f":0.99862},
{"p":0.4525,"q":1.4525,"f":1.00347},{"p":0.455,"q":1.455,"f":1.00085},{"p":0.4575,"q":1.4575,"f":1.00186},{"p":0.46,"q":1.46,"f":1.00266},{"p":0.4625,"q":1.4625,"f":1.00044},{"p":0.465,"q":1.465,"f":1.00105},{"p":0.4675,"q":1.4675,"f":1.00246},{"p":0.47,"q":1.47,"f":1.00004},{"p":0.4725,"q":1.4725,"f":1.00024},{"p":0.475,"q":1.475,"f":1.00226},{"p":0.4775,"q":1.4775,"f":0.99963},{"p":0.48,"q":1.48,"f":0.99943},{"p":0.4825,"q":1.4825,"f":1.00206},{"p":0.485,"q":1.485,"f":0.99923},{"p":0.4875,"q":1.4875,"f":1.00226},{"p":0.49,"q":1.49,"f":1.00165},{"p":0.4925,"q":1.4925,"f":0.99883},{"p":0.495,"q":1.495,"f":0.99862},{"p":0.4975,"q":1.4975,"f":1.00125},{"p":0.5,"q":1.5,"f":0.99842},
{"p":0.5025,"q":1.5025,"f":1.00287},{"p":0.505,"q":1.505,"f":1.00024},{"p":0.5075,"q":1.5075,"f":1.00125},{"p":0.51,"q":1.51,"f":1.00246},{"p":0.5125,"q":1.5125,"f":0.99984},{"p":0.515,"q":1.515,"f":1.00044},{"p":0.5175,"q":1.5175,"f":1.00226},{"p":0.52,"q":1.52,"f":0.99943},{"p":0.5225,"q":1.5225,"f":1.00206},{"p":0.525,"q":1.525,"f":1.00186},{"p":0.5275,"q":1.5275,"f":0.99903},{"p":0.53,"q":1.53,"f":0.99963},{"p":0.5325,"q":1.5325,"f":1.00145},{"p":0.535,"q":1.535,"f":0.99862},{"p":0.5375,"q":1.5375,"f":1.00165},{"p":0.54,"q":1.54,"f":1.00105},{"p":0.5425,"q":1.5425,"f":0.99842},{"p":0.545,"q":1.545,"f":1.00004},{"p":0.5475,"q":1.5475,"f":1.00064},{"p":0.55,"q":1.55,"f":0.99802},
{"p":0.5525,"q":1.5525,"f":1.00428},{"p":0.555,"q":1.555,"f":1.00105},{"p":0.5575,"q":1.5575,"f":0.99782},{"p":0.56,"q":1.56,"f":1.00367},{"p":0.5625,"q":1.5625,"f":1.00044},{"p":0.565,"q":1.565,"f":1.00145},{"p":0.5675,"q":1.5675,"f":1.00307},{"p":0.57,"q":1.57,"f":1.00004},{"p":0.5725,"q":1.5725,"f":1.00085},{"p":0.575,"q":1.575,"f":1.00266},{"p":0.5775,"q":1.5775,"f":0.99963},{"p":0.58,"q":1.58,"f":1.00226},{"p":0.5825,"q":1.5825,"f":1.00226},{"p":0.585,"q":1.585,"f":0.99903},{"p":0.5875,"q":1.5875,"f":1.00024},{"p":0.59,"q":1.59,"f":1.00196},{"p":0.5925,"q":1.5925,"f":0.99862},{"p":0.595,"q":1.595,"f":0.99923},{"p":0.5975,"q":1.5975,"f":1.00165},{"p":0.6,"q":1.6,"f":0.99822},
{"p":0.6025,"q":1.6025,"f":1.00539},{"p":0.605,"q":1.605,"f":1.00226},{"p":0.6075,"q":1.6075,"f":0.99903},{"p":0.61,"q":1.61,"f":1.00509},{"p":0.6125,"q":1.6125,"f":1.00186},{"p":0.615,"q":1.615,"f":0.99862},{"p":0.6175,"q":1.6175,"f":1.00468},{"p":0.62,"q":1.62,"f":1.00145},{"p":0.6225,"q":1.6225,"f":1.00206},{"p":0.625,"q":1.625,"f":1.00428},{"p":0.6275,"q":1.6275,"f":1.00105},{"p":0.63,"q":1.63,"f":1.00125},{"p":0.6325,"q":1.6325,"f":1.00327},{"p":0.635,"q":1.635,"f":1.00064},{"p":0.6375,"q":1.6375,"f":1.00307},{"p":0.64,"q":1.64,"f":1.00287},{"p":0.6425,"q":1.6425,"f":1.00024},{"p":0.645,"q":1.645,"f":1.00044},{"p":0.6475,"q":1.6475,"f":1.00246},{"p":0.65,"q":1.65,"f":0.99963},
{"p":0.6525,"q":1.6525,"f":1.00559},{"p":0.655,"q":1.655,"f":1.00226},{"p":0.6575,"q":1.6575,"f":0.99943},{"p":0.66,"q":1.66,"f":1.00509},{"p":0.6625,"q":1.6625,"f":1.00186},{"p":0.665,"q":1.665,"f":0.99903},{"p":0.6675,"q":1.6675,"f":1.00448},{"p":0.67,"q":1.67,"f":1.00145},{"p":0.6725,"q":1.6725,"f":0.99862},{"p":0.675,"q":1.675,"f":1.00408},{"p":0.6775,"q":1.6775,"f":1.00105},{"p":0.68,"q":1.68,"f":0.99741},{"p":0.6825,"q":1.6825,"f":1.00347},{"p":0.685,"q":1.685,"f":1.00064},{"p":0.6875,"q":1.6875,"f":1.00388},{"p":0.69,"q":1.69,"f":1.00307},{"p":0.6925,"q":1.6925,"f":1.00024},{"p":0.695,"q":1.695,"f":1.00165},{"p":0.6975,"q":1.6975,"f":1.00266},{"p":0.7,"q":1.7,"f":0.99984},
{"p":0.7025,"q":1.7025,"f":1.00489},{"p":0.705,"q":1.705,"f":1.00186},{"p":0.7075,"q":1.7075,"f":0.99862},{"p":0.71,"q":1.71,"f":1.00428},{"p":0.7125,"q":1.7125,"f":1.00145},{"p":0.715,"q":1.715,"f":0.99822},{"p":0.7175,"q":1.7175,"f":1.00388},{"p":0.72,"q":1.72,"f":1.00105},{"p":0.7225,"q":1.7225,"f":1.00246},{"p":0.725,"q":1.725,"f":1.00347},{"p":0.7275,"q":1.7275,"f":1.00064},{"p":0.73,"q":1.73,"f":1.00125},{"p":0.7325,"q":1.7325,"f":1.00307},{"p":0.735,"q":1.735,"f":1.00024},{"p":0.7375,"q":1.7375,"f":1.00327},{"p":0.74,"q":1.74,"f":1.00266},{"p":0.7425,"q":1.7425,"f":0.99963},{"p":0.745,"q":1.745,"f":1.00004},{"p":0.7475,"q":1.7475,"f":1.00226},{"p":0.75,"q":1.75,"f":0.99923},
{"p":0.7525,"q":1.7525,"f":1.00367},{"p":0.755,"q":1.755,"f":1.00044},{"p":0.7575,"q":1.7575,"f":0.99802},{"p":0.76,"q":1.76,"f":1.00327},{"p":0.7625,"q":1.7625,"f":1.00004},{"p":0.765,"q":1.765,"f":1.00226},{"p":0.7675,"q":1.7675,"f":1.00266},{"p":0.77,"q":1.77,"f":0.99963},{"p":0.7725,"q":1.7725,"f":1.00105},{"p":0.775,"q":1.775,"f":1.00206},{"p":0.7775,"q":1.7775,"f":0.99923},{"p":0.78,"q":1.78,"f":1.00024},{"p":0.7825,"q":1.7825,"f":1.00165},{"p":0.785,"q":1.785,"f":0.99883},{"p":0.7875,"q":1.7875,"f":0.99943},{"p":0.79,"q":1.79,"f":1.00125},{"p":0.7925,"q":1.7925,"f":0.99862},{"p":0.795,"q":1.795,"f":1.00186},{"p":0.7975,"q":1.7975,"f":1.00085},{"p":0.8,"q":1.8,"f":0.99842},
{"p":0.8025,"q":1.8025,"f":1.00307},{"p":0.805,"q":1.805,"f":0.99963},{"p":0.8075,"q":1.8075,"f":1.00145},{"p":0.81,"q":1.81,"f":1.00226},{"p":0.8125,"q":1.8125,"f":0.99923},{"p":0.815,"q":1.815,"f":1.00064},{"p":0.8175,"q":1.8175,"f":1.00165},{"p":0.82,"q":1.82,"f":0.99883},{"p":0.8225,"q":1.8225,"f":0.99984},{"p":0.825,"q":1.825,"f":1.00125},{"p":0.8275,"q":1.8275,"f":0.99842},{"p":0.83,"q":1.83,"f":0.99903},{"p":0.8325,"q":1.8325,"f":1.00085},{"p":0.835,"q":1.835,"f":0.99822},{"p":0.8375,"q":1.8375,"f":0.99852},{"p":0.84,"q":1.84,"f":1.00044},{"p":0.8425,"q":1.8425,"f":0.99782},{"p":0.845,"q":1.845,"f":1.00105},{"p":0.8475,"q":1.8475,"f":1.00004},{"p":0.85,"q":1.85,"f":0.99741},
{"p":0.8525,"q":1.8525,"f":1.00145},{"p":0.855,"q":1.855,"f":0.99822},{"p":0.8575,"q":1.8575,"f":0.99539},{"p":0.86,"q":1.86,"f":1.00105},{"p":0.8625,"q":1.8625,"f":0.99782},{"p":0.865,"q":1.865,"f":0.99802},{"p":0.8675,"q":1.8675,"f":1.00044},{"p":0.87,"q":1.87,"f":0.99741},{"p":0.8725,"q":1.8725,"f":0.99883},{"p":0.875,"q":1.875,"f":0.99963},{"p":0.8775,"q":1.8775,"f":0.99701},{"p":0.88,"q":1.88,"f":0.99761},{"p":0.8825,"q":1.8825,"f":0.99923},{"p":0.885,"q":1.885,"f":0.9966},{"p":0.8875,"q":1.8875,"f":0.99842},{"p":0.89,"q":1.89,"f":0.99883},{"p":0.8925,"q":1.8925,"f":0.9962},{"p":0.895,"q":1.895,"f":0.996},{"p":0.8975,"q":1.8975,"f":0.99862},{"p":0.9,"q":1.9,"f":0.9958},
{"p":0.9025,"q":1.9025,"f":0.99943},{"p":0.905,"q":1.905,"f":0.9962},{"p":0.9075,"q":1.9075,"f":0.99337},{"p":0.91,"q":1.91,"f":0.99883},{"p":0.9125,"q":1.9125,"f":0.9958},{"p":0.915,"q":1.915,"f":0.99802},{"p":0.9175,"q":1.9175,"f":0.99822},{"p":0.92,"q":1.92,"f":0.99539},{"p":0.9225,"q":1.9225,"f":0.99721},{"p":0.925,"q":1.925,"f":0.99782},{"p":0.9275,"q":1.9275,"f":0.99499},{"p":0.93,"q":1.93,"f":0.9958},{"p":0.9325,"q":1.9325,"f":0.99741},{"p":0.935,"q":1.935,"f":0.99458},{"p":0.9375,"q":1.9375,"f":0.99519},{"p":0.94,"q":1.94,"f":0.99701},{"p":0.9425,"q":1.9425,"f":0.99418},{"p":0.945,"q":1.945,"f":0.99418},{"p":0.9475,"q":1.9475,"f":0.9966},{"p":0.95,"q":1.95,"f":0.99378},
{"p":0.9525,"q":1.9525,"f":0.99842},{"p":0.955,"q":1.955,"f":0.99458},{"p":0.9575,"q":1.9575,"f":0.99135},{"p":0.96,"q":1.96,"f":0.99802},{"p":0.9625,"q":1.9625,"f":0.99398},{"p":0.965,"q":1.965,"f":0.99822},{"p":0.9675,"q":1.9675,"f":0.99761},{"p":0.97,"q":1.97,"f":0.99337},{"p":0.9725,"q":1.9725,"f":0.99782},{"p":0.975,"q":1.975,"f":0.99701},{"p":0.9775,"q":1.9775,"f":0.99297},{"p":0.98,"q":1.98,"f":0.9962},{"p":0.9825,"q":1.9825,"f":0.9964},{"p":0.985,"q":1.985,"f":0.99256},{"p":0.9875,"q":1.9875,"f":0.99317},{"p":0.99,"q":1.99,"f":0.9958},{"p":0.9925,"q":1.9925,"f":0.99216},{"p":0.995,"q":1.995,"f":0.99499},{"p":0.9975,"q":1.9975,"f":0.99519},{"p":1.0,"q":2.0,"f":0.99196}
]
},
"hconcat": [
  {
    "width": 267, "height": 261,
    "data": {"name": "lc"},
    "mark": {"type": "circle", "size": 5, "color": "black", "opacity": 1},
    "encoding": {
      "x": {"field": "t", "type": "quantitative", "scale": {"domain": [1816.56, 1842.07], "nice": false, "zero": false}, "axis": {"values": [1820, 1825, 1830, 1835, 1840], "format": "d", "title": "BJD - 2457000"}},
      "y": {"field": "f", "type": "quantitative", "scale": {"domain": [0.99051, 1.0063], "nice": false, "zero": false}, "axis": {"values": [0.992, 0.994, 0.996, 0.998, 1.0, 1.002, 1.004, 1.006], "format": ".3f", "title": "Normalized Flux"}}
    }
  },
  {
    "width": 267, "height": 261,
    "data": {"name": "pg"},
    "mark": {"type": "line", "color": "black", "strokeWidth": 1.4},
    "encoding": {
      "x": {"field": "fr", "type": "quantitative", "scale": {"domain": [-0.205, 5.22], "nice": false, "zero": false}, "axis": {"values": [0, 1, 2, 3, 4, 5], "format": "d", "title": "Frequency [1/day]"}},
      "y": {"field": "a", "type": "quantitative", "scale": {"domain": [-0.046, 1.053], "nice": false, "zero": false}, "axis": {"values": [0, 0.2, 0.4, 0.6, 0.8, 1.0], "format": ".1f", "title": "Normalized Amplitude", "titlePadding": 3}}
    }
  },
  {
    "width": 267, "height": 261,
    "encoding": {
      "x": {"field": "ph", "type": "quantitative", "scale": {"domain": [0, 2], "nice": false, "zero": false}, "axis": {"values": [0, 0.5, 1, 1.5, 2], "format": ".1f", "title": "Phase"}},
      "y": {"field": "f", "type": "quantitative", "scale": {"domain": [0.99051, 1.0063], "nice": false, "zero": false}, "axis": {"values": [0.992, 0.994, 0.996, 0.998, 1.0, 1.002, 1.004, 1.006], "format": ".3f", "title": "Normalized Flux", "titlePadding": 8}}
    },
    "layer": [
      {
        "data": {"name": "ph"},
        "transform": [{"fold": ["p", "q"], "as": ["k", "ph"]}],
        "mark": {"type": "circle", "size": 5, "color": "black", "opacity": 1}
      },
      {
        "data": {"values": [{"ph": 1.932, "f": 0.99105, "label": "P = 1.9685 d"}]},
        "mark": {"type": "text", "align": "right", "baseline": "alphabetic", "fontSize": 14, "font": "DejaVu Sans", "color": "black"},
        "encoding": {"text": {"field": "label"}}
      }
    ]
  }
],
"spacing": 5
}
